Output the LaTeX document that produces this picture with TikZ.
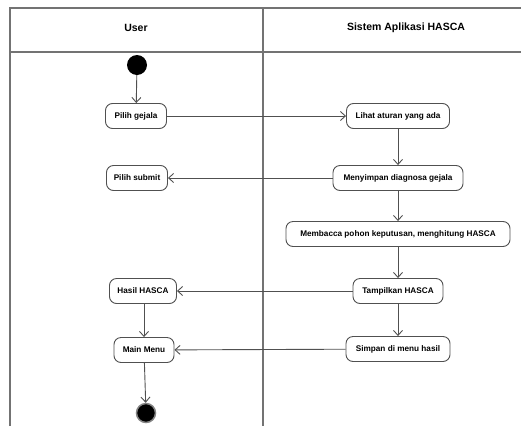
\documentclass[tikz,border=0pt]{standalone}
\usepackage{fontspec}
\setmainfont{Liberation Sans}
\usetikzlibrary{arrows.meta}
\definecolor{ln}{HTML}{505050}
\tikzset{
  act/.style={draw=ln, line width=0.9pt, rounded corners=7pt, minimum height=25pt,
    inner sep=2pt, font=\fontsize{8.2}{10}\selectfont\bfseries, fill=white},
  flow/.style={draw=ln, line width=0.9pt, -{Straight Barb[length=5pt,width=9pt,line width=0.9pt]}},
  lane/.style={draw=ln!80, line width=1.1pt},
  hdr/.style={font=\fontsize{10.5}{12}\selectfont\bfseries}
}
\begin{document}
\begin{tikzpicture}[x=1pt,y=-1pt]
\useasboundingbox (0,0) rectangle (521,426);
% swimlanes
\draw[lane] (10,426) -- (10,8) -- (521,8);
\draw[lane] (10,52) -- (521,52);
\draw[lane] (263,8) -- (263,426);
\node[hdr] (hu) at (136,28) {User};
\node[hdr] (hs) at (406,28) {Sistem Aplikasi HASCA};
% nodes
\node[circle, fill=black, minimum size=20pt, inner sep=0pt] (start) at (137,65) {};
\node[act, minimum width=61pt] (pg) at (136,116) {Pilih gejala};
\node[act, minimum width=103pt] (la) at (398,116) {Lihat aturan yang ada};
\node[act, minimum width=61pt] (ps) at (137,178) {Pilih submit};
\node[act, minimum width=130pt] (md) at (398,178) {Menyimpan diagnosa gejala};
\node[act, minimum width=224pt] (mb) at (398,234) {Membacca pohon keputusan, menghitung HASCA};
\node[act, minimum width=67pt] (hh) at (143,291) {Hasil HASCA};
\node[act, minimum width=90pt] (th) at (398,291) {Tampilkan HASCA};
\node[act, minimum width=60pt] (mm) at (144,350) {Main Menu};
\node[act, minimum width=104pt] (sm) at (398,349) {Simpan di menu hasil};
\node[circle, draw=ln!70, line width=1.5pt, fill=black, minimum size=19pt, inner sep=0pt] (end) at (146,413) {};
% flows
\draw[flow] (start) -- (pg);
\draw[flow] (pg) -- (la);
\draw[flow] (la) -- (md);
\draw[flow] (md) -- (ps);
\draw[flow] (md) -- (mb);
\draw[flow] (mb) -- (th);
\draw[flow] (th) -- (hh);
\draw[flow] (th) -- (sm);
\draw[flow] (hh.south -| 144,0) -- (mm);
\draw[flow] (sm) -- (mm);
\draw[flow] (mm) -- (end);
\end{tikzpicture}
\end{document}
